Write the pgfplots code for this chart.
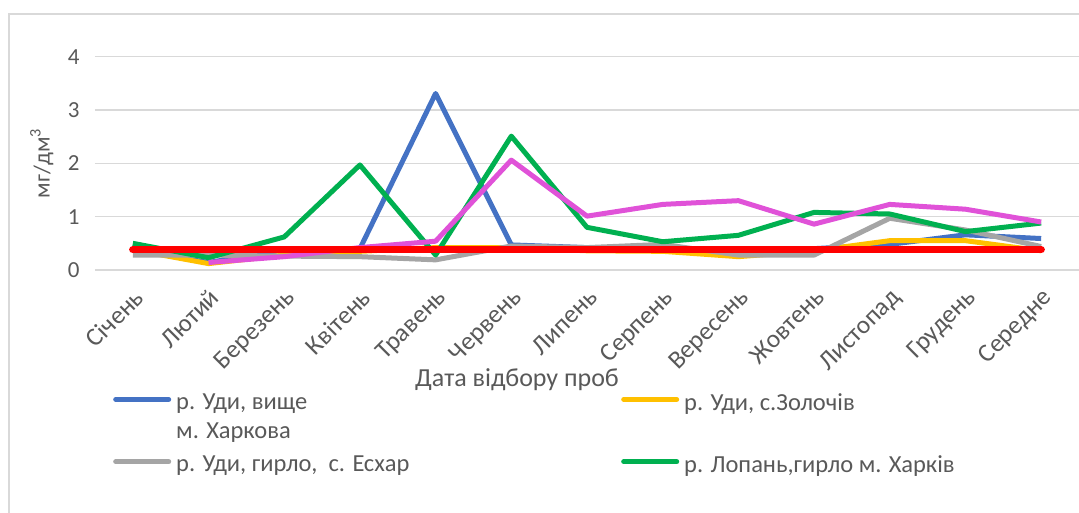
\documentclass[border=0pt]{standalone}
\usepackage{pgfplots}
\pgfplotsset{compat=1.18}
\usepackage{fontspec}
\setmainfont{Carlito}
\definecolor{txt}{HTML}{595959}
\definecolor{gridgray}{HTML}{D9D9D9}
\definecolor{sBlue}{HTML}{4472C4}
\definecolor{sYellow}{HTML}{FFC000}
\definecolor{sGray}{HTML}{A5A5A5}
\definecolor{sGreen}{HTML}{00B050}
\definecolor{sPink}{HTML}{E052D8}
\definecolor{sRed}{HTML}{FF0000}
\begin{document}
\begin{tikzpicture}[x=1pt,y=1pt]
\useasboundingbox (0,0) rectangle (1079,513);
% chart frame (left and top edges)
\draw[gridgray, line width=2pt] (9,0) -- (9,499) -- (1079,499);
\begin{axis}[
  at={(95pt,243pt)}, anchor=south west,
  scale only axis, width=984pt, height=213.3pt,
  xmin=-0.5, xmax=12.5, ymin=0, ymax=4,
  xtick={0,...,12},
  xticklabels={Січень,Лютий,Березень,Квітень,Травень,Червень,Липень,Серпень,Вересень,Жовтень,Листопад,Грудень,Середне},
  ytick={0,1,2,3,4},
  axis line style={draw=none},
  tick style={draw=none},
  ymajorgrids, xmajorgrids=false, grid style={gridgray, line width=1.5pt},
  font=\fontsize{23}{27}\selectfont,
  tick label style={font=\fontsize{23}{27}\selectfont, text=txt},
  /pgf/number format/assume math mode=true,
  yticklabel style={xshift=-12pt},
  xticklabel style={font=\fontsize{25.5}{30}\selectfont, rotate=45, anchor=north east, xshift=-12pt, yshift=-12pt, inner sep=0pt},
  ylabel={мг/дм\textsuperscript{3}},
  ylabel style={text=txt, at={(axis description cs:-0.054,0.5)}, anchor=center},
  xlabel={Дата відбору проб},
  xlabel style={text=txt, font=\fontsize{26}{30}\selectfont, at={(422pt,-110pt)}, anchor=center},
  legend columns=2,
  legend cell align=left,
  legend style={at={(18pt,-121pt)}, anchor=north west, draw=none, fill=none,
    font=\fontsize{24.5}{29}\selectfont, text=txt, inner sep=0pt,
    row sep=40pt,
    /tikz/every odd column/.style={column sep=3pt}},
  legend image code/.code={\draw[#1, line width=5pt, line cap=round] (0pt,3pt) -- (53pt,3pt);},
  clip=false,
]
\addplot[sBlue, line width=5pt, line join=round] coordinates {
 (0,0.38) (1,0.14) (2,0.38) (3,0.40) (4,3.31) (5,0.47) (6,0.42)
 (7,0.40) (8,0.40) (9,0.40) (10,0.48) (11,0.66) (12,0.59)};
\addlegendentry{\parbox[t]{443pt}{р. Уди, вище\\[0pt]м. Харкова}}
\addplot[sYellow, line width=5pt, line join=round] coordinates {
 (0,0.38) (1,0.12) (2,0.28) (3,0.35) (4,0.42) (5,0.42) (6,0.36)
 (7,0.35) (8,0.25) (9,0.36) (10,0.55) (11,0.55) (12,0.36)};
\addlegendentry{р. Уди, с.Золочів}
\addplot[sGray, line width=5pt, line join=round] coordinates {
 (0,0.28) (1,0.28) (2,0.26) (3,0.25) (4,0.19) (5,0.45) (6,0.42)
 (7,0.48) (8,0.28) (9,0.28) (10,0.97) (11,0.75) (12,0.44)};
\addlegendentry{\makebox[443pt][l]{р. Уди, гирло,~~с. Есхар}}
\addplot[sGreen, line width=5pt, line join=round] coordinates {
 (0,0.50) (1,0.23) (2,0.62) (3,1.97) (4,0.28) (5,2.51) (6,0.80)
 (7,0.53) (8,0.65) (9,1.08) (10,1.05) (11,0.72) (12,0.88)};
\addlegendentry{р. Лопань,гирло м. Харків}
\addplot[sPink, line width=5pt, line join=round, forget plot] coordinates {
 (1,0.14) (2,0.25) (3,0.42) (4,0.54) (5,2.06) (6,1.01)
 (7,1.23) (8,1.30) (9,0.86) (10,1.23) (11,1.14) (12,0.90)};
\addplot[sRed, line width=7.5pt, line cap=round, forget plot] coordinates {
 (0,0.38) (1,0.38) (2,0.38) (3,0.38) (4,0.38) (5,0.38) (6,0.38)
 (7,0.38) (8,0.38) (9,0.38) (10,0.38) (11,0.38) (12,0.38)};
\end{axis}
\end{tikzpicture}
\end{document}
